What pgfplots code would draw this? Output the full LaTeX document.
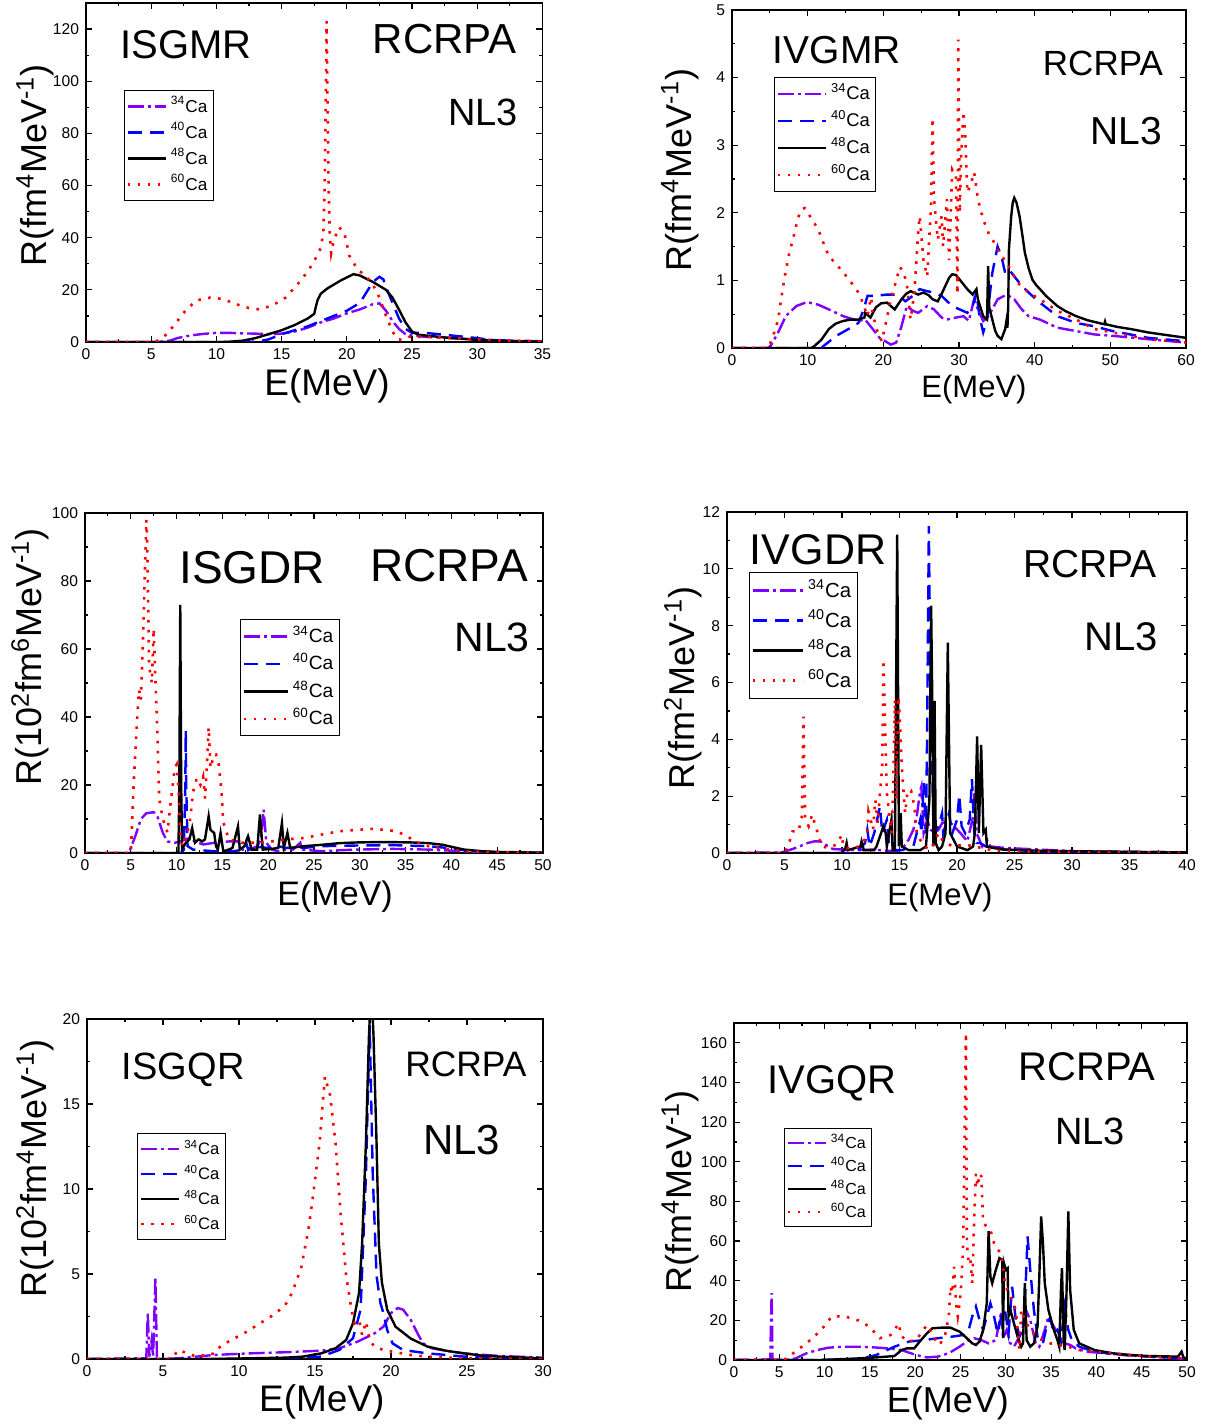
\documentclass[border=0pt]{standalone}
\usepackage{fontspec}
\setmainfont{Liberation Sans}
\usepackage{pgfplots}
\pgfplotsset{compat=1.18}

\definecolor{cviolet}{RGB}{128,0,255}
\definecolor{cblue}{RGB}{0,0,255}
\definecolor{cred}{RGB}{255,0,0}

\tikzset{
 s34/.style={cviolet, line width=1.2pt, dash pattern=on 8pt off 2pt on 1.5pt off 2pt},
 s40/.style={cblue, line width=1.2pt, dash pattern=on 7pt off 4pt},
 s48/.style={black, line width=1.2pt},
 s60/.style={cred, line width=1.3pt, dash pattern=on 1.3pt off 3.7pt},
}
\newcommand{\yl}[1]{R(#1MeV\textsuperscript{-1})}
\pgfplotsset{
 panel/.style={
   scale only axis, anchor=south west,
   axis line style={line width=0.7pt},
   every tick/.style={black, line width=0.6pt},
   major tick length=3pt, minor tick length=1.6pt,
   tick align=inside,
   minor tick num=1,
   tick label style={font=\fontsize{7.8}{8}\selectfont},
   /pgf/number format/assume math mode=true,
   ylabel style={font=\fontsize{18}{20}\selectfont, anchor=center},
   xlabel style={anchor=center},
   xlabel={E(MeV)},
   every axis plot/.append style={no marks},
   legend cell align=left,
   legend style={draw=black, line width=0.5pt, fill=white, anchor=north west,
     inner xsep=1pt, inner ysep=1.5pt, row sep=0pt},
   clip=true,
 },
 leg/.style n args={4}{%
   legend style={at={(rel axis cs:#1,#2)}, font=\fontsize{#3}{#3}\selectfont,
     nodes={inner ysep=0pt, inner xsep=2pt, text height=0.72*#4, text depth=0.28*#4}},
 },
}

\begin{document}
\begin{tikzpicture}
\useasboundingbox (0,0) rectangle (605.5pt,714pt);

% ---------------- ISGMR ----------------
\begin{axis}[panel, at={(43pt,543pt)}, width=228.25pt, height=169.5pt,
  xmin=0, xmax=35, ymin=0, ymax=130,
  xtick={0,5,...,35}, ytick={0,20,...,120},
  ylabel={\yl{fm\textsuperscript{4}}},
  xlabel style={font=\fontsize{18.5}{20}\selectfont, at={(axis description cs:0.528,-0.13)}},
  ylabel style={at={(axis description cs:-0.112,0.52)}},
  leg={0.083}{0.743}{8.6}{13pt},
  legend image code/.code={\draw[#1] (0pt,0pt) -- (19pt,0pt);},
]
\addplot[s34] coordinates {(0,0) (5.5,0) (6,0.2) (6.5,0.6) (7,1.5) (8,2.5) (9,3.1) (10,3.5) (11,3.5) (12,3.3) (13,3.2) (14,3.0) (15,3.2) (16,4.0) (17,5.5) (18,7.5) (19,9) (20,11) (21,12.5) (22,14.5) (22.5,14.8) (23,12) (23.5,8) (24,5) (24.5,3) (25,2.5) (26,2) (28,1.5) (30,1) (32,0.6) (35,0.3)};
\addlegendentry{\textsuperscript{34}Ca}
\addplot[s40] coordinates {(0,0) (12.5,0) (13,0.2) (13.5,0.5) (14,1) (15,3) (16,4.5) (17,6) (18,8) (19,10) (20,12) (21,15) (21.5,19) (22,23) (22.5,25) (22.8,24) (23,21) (23.5,15) (24,9) (24.5,5) (25,3.5) (26,3.5) (27,3) (28,2.5) (29,2) (30,1.5) (31,0.8) (33,0.3) (35,0.1)};
\addlegendentry{\textsuperscript{40}Ca}
\addplot[s48] coordinates {(0,0) (10.5,0) (11,0.1) (12,0.5) (13,1.5) (14,3) (15,4.5) (16,6.5) (17,9) (17.5,10.8) (17.6,13) (17.75,16) (18,18.5) (18.5,20.5) (19.5,23.5) (20.5,26) (21,25.5) (22,23) (23,20) (23.5,17) (24,12.4) (24.5,7.5) (25,4) (25.5,2.8) (26,2.5) (27,2) (28,1.5) (30,0.8) (32,0.4) (35,0.1)};
\addlegendentry{\textsuperscript{48}Ca}
\addplot[s60] coordinates {(0,0) (5,0) (5.5,0.5) (6.2,3) (7,8) (7.7,12.5) (8.5,16) (9.5,17) (10.5,16.5) (11.5,14.5) (12.5,13) (13.3,12.5) (14.3,14) (15.3,17) (16.2,22) (17,27) (17.6,32) (18.0,36) (18.2,42) (18.3,60) (18.4,100) (18.45,123) (18.5,100) (18.6,60) (18.7,40) (18.8,34) (19,39) (19.4,44) (19.8,42) (20.2,33) (20.8,28) (21.5,25) (22,22) (22.5,17) (23,10) (23.5,4) (23.9,1) (24.3,0.8) (24.8,2) (26,2) (28,1.5) (30,1) (32,0.5) (35,0.2)};
\addlegendentry{\textsuperscript{60}Ca}
\node[font=\fontsize{20}{22}\selectfont] at (rel axis cs:0.219,0.876) {ISGMR};
\node[font=\fontsize{21}{22}\selectfont] at (rel axis cs:0.786,0.894) {RCRPA};
\node[font=\fontsize{19}{22}\selectfont] at (rel axis cs:0.870,0.678) {NL3};
\end{axis}

% ---------------- IVGMR ----------------
\begin{axis}[panel, at={(366pt,540pt)}, width=227pt, height=169pt,
  xmin=0, xmax=60, ymin=0, ymax=5,
  xtick={0,10,...,60}, ytick={0,1,...,5},
  ylabel={\yl{fm\textsuperscript{4}}},
  xlabel style={font=\fontsize{15.5}{17}\selectfont, at={(axis description cs:0.533,-0.124)}},
  ylabel style={at={(axis description cs:-0.115,0.527)}},
  leg={0.0925}{0.802}{9.2}{13.5pt},
  legend image code/.code={\draw[#1] (0pt,0pt) -- (24pt,0pt);},
]
\addplot[s34] coordinates {(0,0) (4.8,0) (5.1,0.03) (6.1,0.23) (7.1,0.47) (8.5,0.62) (9.9,0.68) (11.4,0.64) (12.8,0.57) (14.7,0.47) (16.7,0.4) (17.6,0.42) (18.6,0.28) (19.5,0.15) (21,0.05) (21.7,0.08) (22.4,0.32) (23.1,0.62) (23.9,0.55) (24.6,0.52) (25.8,0.62) (26.7,0.57) (27.7,0.45) (28.4,0.42) (29.6,0.45) (30.6,0.47) (31.3,0.4) (32,0.72) (32.5,0.57) (33.2,0.4) (33.9,0.47) (35.1,0.72) (36.3,0.79) (37.3,0.72) (38.3,0.57) (39.2,0.47) (40.7,0.42) (43,0.3) (45.5,0.25) (47.9,0.2) (50.3,0.18) (55,0.13) (60,0.08)};
\addlegendentry{\textsuperscript{34}Ca}
\addplot[s40] coordinates {(0,0) (11.8,0) (12.1,0.03) (13.8,0.18) (15.7,0.3) (16.7,0.37) (17.4,0.57) (17.9,0.77) (18.8,0.77) (20.5,0.79) (21.9,0.79) (22.9,0.69) (23.9,0.77) (24.8,0.87) (25.8,0.84) (26.7,0.82) (27.7,0.77) (29.1,0.62) (30.1,0.57) (31.1,0.52) (31.8,0.62) (32.3,0.82) (32.7,0.47) (33.2,0.23) (33.7,0.42) (34.4,1.11) (35.1,1.5) (35.6,1.36) (36.1,1.11) (36.6,1.16) (37.3,1.06) (38.3,0.92) (39.2,0.82) (40.7,0.67) (43,0.47) (45.5,0.37) (47.9,0.32) (50.3,0.25) (55,0.15) (60,0.1)};
\addlegendentry{\textsuperscript{40}Ca}
\addplot[s48] coordinates {(0,0) (10.5,0) (10.9,0.03) (11.8,0.12) (12.8,0.28) (13.7,0.36) (14.7,0.4) (15.7,0.42) (16.7,0.42) (17.5,0.45) (17.6,0.52) (18.3,0.45) (19,0.6) (19.7,0.66) (20.5,0.67) (21.5,0.57) (22.4,0.72) (23.0,0.8) (23.6,0.84) (24.6,0.79) (25.3,0.82) (26.0,0.78) (26.5,0.72) (27.2,0.69) (27.7,0.8) (28.2,0.92) (28.7,1.04) (29.1,1.09) (29.6,1.08) (30.1,1.01) (30.6,0.94) (31.1,0.87) (31.8,0.79) (32.3,0.87) (32.5,0.72) (33.2,0.47) (33.7,0.42) (33.85,1.21) (34.0,0.6) (34.4,0.42) (34.8,0.25) (35.1,0.18) (35.6,0.13) (36.1,0.28) (36.3,0.42) (36.4,0.3) (36.5,0.6) (36.6,1.46) (36.9,1.95) (37.1,2.15) (37.3,2.22) (37.6,2.15) (38.0,1.95) (38.4,1.65) (38.7,1.41) (39.2,1.18) (39.7,1.01) (40.2,0.93) (40.7,0.87) (41.5,0.77) (43,0.62) (44,0.55) (45.5,0.47) (47,0.41) (49.2,0.35) (49.3,0.39) (49.4,0.35) (51,0.31) (52.7,0.28) (55,0.23) (57.5,0.19) (60,0.15)};
\addlegendentry{\textsuperscript{48}Ca}
\addplot[s60] coordinates {(0,0) (4.5,0) (5.0,0.05) (5.5,0.2) (6.1,0.42) (6.6,0.8) (7.05,1.11) (7.6,1.42) (8.26,1.7) (8.7,1.92) (9.2,2.05) (9.6,2.07) (10,2.0) (10.6,1.9) (11.4,1.75) (12.1,1.55) (12.8,1.36) (14,1.21) (15.5,1.01) (16.7,0.82) (17.1,0.72) (17.9,0.47) (18.2,0.65) (18.4,0.75) (18.6,0.5) (19.2,0.25) (19.8,0.1) (21,0.72) (22.2,1.2) (22.7,1.1) (23.1,0.96) (23.6,0.42) (24.1,0.82) (24.6,1.7) (24.8,1.95) (25.3,1.3) (25.8,1.06) (26.3,2.1) (26.5,3.4) (26.7,2.2) (27.2,1.6) (27.7,1.95) (27.9,1.5) (28.4,2.2) (28.7,1.3) (29.1,2.64) (29.6,2.54) (29.8,0.8) (29.9,4.56) (30.1,2.0) (30.3,2.9) (30.6,3.5) (30.8,3.2) (31.1,2.3) (31.5,2.4) (32,2.6) (32.5,2.2) (33.2,1.9) (33.9,1.7) (34.7,1.55) (35.4,1.4) (36.3,1.26) (37.8,0.96) (39.2,0.82) (40.7,0.72) (43,0.55) (45.5,0.42) (47.9,0.28) (50.3,0.23) (55,0.13) (60,0.08)};
\addlegendentry{\textsuperscript{60}Ca}
\node[font=\fontsize{19.5}{22}\selectfont] at (rel axis cs:0.231,0.882) {IVGMR};
\node[font=\fontsize{17.5}{20}\selectfont] at (rel axis cs:0.817,0.843) {RCRPA};
\node[font=\fontsize{19.5}{22}\selectfont] at (rel axis cs:0.868,0.642) {NL3};
\end{axis}

% ---------------- ISGDR ----------------
\begin{axis}[panel, at={(42.5pt,287.5pt)}, width=229pt, height=170pt,
  xmin=0, xmax=50, ymin=0, ymax=100,
  xtick={0,5,...,50}, ytick={0,20,...,100},
  ylabel={\yl{10\textsuperscript{2}fm\textsuperscript{6}}},
  xlabel style={font=\fontsize{17}{19}\selectfont, at={(axis description cs:0.546,-0.13)}},
  ylabel style={at={(axis description cs:-0.12,0.576)}},
  leg={0.338}{0.688}{9.6}{13.75pt},
  legend image code/.code={\draw[#1] (0pt,0pt) -- (22pt,0pt);},
]
\addplot[s34] coordinates {(0,0) (4.8,0) (5,1.5) (5.5,5) (6.1,10) (6.7,11.7) (7.5,12) (7.9,10.8) (8.5,5.9) (9,3.4) (9.8,3) (10.4,3.4) (11,4) (11.4,4.4) (12,3.4) (12.9,2.5) (14.1,3) (15.7,3.4) (16.7,3.4) (17.2,1) (18,1) (18.8,2) (19.2,4) (19.5,12.7) (19.8,3) (20.4,1) (21.1,0.5) (21.9,1) (22.7,1) (23.5,3) (23.7,1) (25.8,0.5) (27.8,0.8) (29.7,1) (33.6,1.2) (37.5,1) (41.4,0.5) (45.3,0.2) (50,0.1)};
\addlegendentry{\textsuperscript{34}Ca}
\addplot[s40] coordinates {(0,0) (10.5,0) (10.8,1) (10.95,20) (11.0,36) (11.05,20) (11.2,2) (11.8,1) (14.1,0.5) (16.1,0.5) (17.4,1) (17.6,3) (17.8,1) (18,2) (20,1.5) (21.1,2) (21.9,1.5) (23.9,1.5) (25.8,2) (29.7,2.2) (33.6,2.3) (37.5,2) (39.5,1.5) (41.4,0.8) (45.3,0.2) (50,0)};
\addlegendentry{\textsuperscript{40}Ca}
\addplot[s48] coordinates {(0,0) (10,0) (10.2,0.2) (10.3,20) (10.4,73) (10.5,20) (10.6,1) (11,3) (11.4,4) (11.7,7.3) (12,3) (12.4,4) (12.8,3.4) (13.1,4) (13.5,10.8) (13.7,6.8) (14.1,5.9) (14.3,2) (14.5,1) (14.8,5.9) (15.1,0.5) (15.7,1) (16.1,1.5) (16.7,7.8) (16.9,1) (17.4,2) (17.8,4.9) (18.2,1) (18.8,1) (19.1,11.3) (19.4,1) (20.4,1.2) (21.1,1.5) (21.5,8.8) (21.7,1.5) (22.1,5.9) (22.4,1.5) (23.9,2) (25.8,2.4) (27.8,2.9) (29.7,3.1) (31.7,3.2) (33.6,3.2) (35.6,3.1) (37.5,2.9) (39.1,2.4) (40.2,1.7) (41.4,1) (43.4,0.5) (45.3,0.3) (50,0.1)};
\addlegendentry{\textsuperscript{48}Ca}
\addplot[s60] coordinates {(0,0) (5,0) (5.15,8.8) (5.3,19.6) (5.7,40) (5.9,48) (6.1,45) (6.3,60) (6.5,79) (6.7,98) (6.8,91) (7.0,55) (7.3,50) (7.5,66) (7.7,50) (7.9,35) (8.1,16) (8.5,10) (9.0,6) (9.4,16) (9.8,25) (10.0,26) (10.2,19) (10.4,6) (10.6,2) (11.4,8) (11.8,18) (12.2,22) (12.6,20) (12.9,22.5) (13.1,16) (13.3,25) (13.5,37) (13.7,25) (13.9,27) (14.1,29) (14.3,29) (14.6,26) (14.9,18) (15.1,9) (15.7,4) (17.2,3) (18.8,3) (20.4,3.4) (21.9,4) (23.9,4.4) (25.8,5.4) (27.8,6.4) (29.7,6.8) (31.3,7.1) (32.8,6.8) (34,6.4) (35.2,4.9) (36,3.4) (37.5,2) (39.5,1.2) (41.4,0.5) (45.3,0.2) (50,0)};
\addlegendentry{\textsuperscript{60}Ca}
\node[font=\fontsize{23}{25}\selectfont] at (rel axis cs:0.365,0.838) {ISGDR};
\node[font=\fontsize{23}{25}\selectfont] at (rel axis cs:0.795,0.844) {RCRPA};
\node[font=\fontsize{20.5}{22}\selectfont] at (rel axis cs:0.889,0.635) {NL3};
\end{axis}

% ---------------- IVGDR ----------------
\begin{axis}[panel, at={(363.5pt,287.5pt)}, width=230pt, height=170.5pt,
  xmin=0, xmax=40, ymin=0, ymax=12,
  xtick={0,5,...,40}, ytick={0,2,...,12},
  ylabel={\yl{fm\textsuperscript{2}}},
  xlabel style={font=\fontsize{15.5}{17}\selectfont, at={(axis description cs:0.463,-0.13)}},
  ylabel style={at={(axis description cs:-0.096,0.484)}},
  leg={0.048}{0.824}{10.2}{15pt},
  legend image code/.code={\draw[#1] (0pt,0pt) -- (25pt,0pt);},
]
\addplot[s34] coordinates {(0,0) (4.75,0.02) (5.7,0.14) (6.3,0.23) (7,0.35) (7.6,0.41) (8.1,0.41) (8.55,0.3) (9.2,0.14) (10.1,0.12) (11.4,0.1) (12.7,0.12) (14.6,0.06) (15.2,0.12) (15.8,0.47) (16.2,0.82) (16.5,1.29) (16.8,2.2) (16.9,2.34) (17.1,0.7) (17.4,1.17) (17.7,0.82) (18.05,0.7) (18.4,0.82) (18.7,1.05) (19.2,1.11) (19.6,1.0) (20.3,0.7) (20.9,0.41) (21.4,1.29) (21.5,2.1) (21.7,0.7) (22.2,0.23) (22.6,0.47) (22.9,0.23) (24.1,0.18) (27.2,0.12) (30.4,0.06) (40,0.02)};
\addlegendentry{\textsuperscript{34}Ca}
\addplot[s40] coordinates {(0,0) (11,0) (11.4,0.1) (12,0.35) (12.2,0.82) (12.4,0.23) (12.8,0.7) (13.3,1.64) (13.5,0.7) (13.9,1.17) (14.1,0.23) (14.6,0.1) (15.2,0.1) (16.2,0.23) (16.5,0.7) (16.8,1.17) (16.9,0.7) (17.1,2.46) (17.3,0.7) (17.4,4.2) (17.55,11.5) (17.7,5.4) (17.9,1.87) (18.05,0.7) (18.4,0.94) (18.7,1.4) (18.8,0.7) (19.3,1.4) (19.6,0.7) (20,1.17) (20.2,2.05) (20.4,0.94) (20.7,0.7) (21.1,1.17) (21.3,2.6) (21.5,0.7) (21.7,0.35) (22,0.35) (22.5,0.23) (23.1,0.18) (24.1,0.12) (27.2,0.06) (40,0.02)};
\addlegendentry{\textsuperscript{40}Ca}
\addplot[s48] coordinates {(0,0) (10,0) (10.3,0.18) (10.4,0.35) (10.5,0.1) (11.6,0.23) (11.7,0.41) (11.9,0.1) (12.8,0.1) (13,0.23) (13.6,0.94) (13.8,0.7) (13.9,0.23) (14.3,1.17) (14.4,0.1) (14.6,0.1) (14.8,11.2) (14.95,0.23) (15.1,1.4) (15.2,0.23) (15.8,0.1) (16.8,0.1) (17.3,0.23) (17.6,1.87) (17.75,8.7) (17.85,5.4) (17.95,0.23) (18.05,5.35) (18.15,0.35) (18.4,0.1) (18.7,0.23) (19.0,0.7) (19.2,7.4) (19.4,0.7) (20,0.23) (20.9,0.1) (21.4,0.23) (21.55,0.7) (21.75,4.1) (21.9,0.7) (22.1,3.8) (22.3,0.7) (22.5,0.82) (22.6,0.23) (23.1,0.18) (24.1,0.12) (27.2,0.08) (30.4,0.06) (40,0.02)};
\addlegendentry{\textsuperscript{48}Ca}
\addplot[s60] coordinates {(0,0) (5,0) (5.1,0.06) (5.4,0.35) (5.7,0.76) (6.2,0.76) (6.5,1.2) (6.65,4.8) (6.8,1.2) (7.1,0.94) (7.4,1.35) (7.8,0.82) (8.2,0.23) (8.9,0.18) (9.5,0.3) (10,0.64) (10.1,0.23) (10.8,0.12) (11.4,0.23) (11.9,0.41) (12.2,0.7) (12.3,1.46) (12.7,0.82) (12.9,1.87) (13.1,1.05) (13.3,2.1) (13.5,3.05) (13.6,6.8) (13.8,3.6) (13.9,2.1) (14.3,0.7) (14.4,1.64) (14.6,5.4) (14.7,1.87) (14.9,5.5) (15,4.9) (15.2,3.05) (15.4,1.87) (15.5,1.4) (15.7,2.2) (16,2.2) (16.3,1.64) (16.5,0.7) (17.1,0.23) (17.7,0.12) (18.4,0.7) (18.7,0.47) (19.6,0.23) (20.6,0.3) (21.5,0.23) (22.8,0.12) (24.1,0.06) (40,0)};
\addlegendentry{\textsuperscript{60}Ca}
\node[font=\fontsize{21.5}{24}\selectfont] at (rel axis cs:0.198,0.889) {IVGDR};
\node[font=\fontsize{19.5}{22}\selectfont] at (rel axis cs:0.789,0.848) {RCRPA};
\node[font=\fontsize{20}{22}\selectfont] at (rel axis cs:0.857,0.633) {NL3};
\end{axis}

% ---------------- ISGQR ----------------
\begin{axis}[panel, at={(43.5pt,34.5pt)}, width=228pt, height=170pt,
  xmin=0, xmax=30, ymin=0, ymax=20,
  xtick={0,5,...,30}, ytick={0,5,...,20},
  ylabel={\yl{10\textsuperscript{2}fm\textsuperscript{4}}},
  xlabel style={font=\fontsize{18.5}{20}\selectfont, at={(axis description cs:0.515,-0.126)}},
  ylabel style={at={(axis description cs:-0.114,0.56)}},
  leg={0.110}{0.665}{8.3}{12.5pt},
  legend image code/.code={\draw[#1] (0pt,0pt) -- (19pt,0pt);},
]
\addplot[s34] coordinates {(0,0) (3.9,0.04) (4.0,2.7) (4.1,0.14) (4.25,1.1) (4.35,0.14) (4.5,4.8) (4.6,0.14) (4.85,0) (6,0.04) (7.2,0.14) (8.4,0.24) (10.7,0.33) (13.1,0.4) (15.4,0.49) (16.6,0.63) (17.8,1.02) (18.9,1.5) (19.5,1.9) (20,2.7) (20.45,3.0) (20.8,2.9) (21.3,2.3) (21.75,1.5) (22.1,0.92) (22.7,0.63) (23.6,0.49) (24.8,0.33) (27.1,0.18) (30,0.08)};
\addlegendentry{\textsuperscript{34}Ca}
\addplot[s40] coordinates {(0,0) (12,0) (15.4,0.14) (16.6,0.53) (17.5,1.22) (18,2.9) (18.35,10.8) (18.6,19.6) (18.8,10.8) (19.05,4.9) (19.3,3.3) (19.5,2.7) (19.75,1.7) (20.1,0.92) (20.8,0.53) (22.4,0.33) (23.6,0.24) (24.8,0.14) (27.1,0.08) (30,0.04)};
\addlegendentry{\textsuperscript{40}Ca}
\addplot[s48] coordinates {(0,0) (8,0) (10.7,0.04) (13.1,0.08) (14.2,0.14) (15.4,0.33) (16.35,0.63) (17.05,1.12) (17.5,2.1) (17.9,3.9) (18.1,6.8) (18.35,12.7) (18.55,19) (18.7,22) (18.85,19) (19.05,12.7) (19.2,6.8) (19.4,4.5) (19.75,2.9) (20.3,1.9) (21.3,1.2) (22.4,0.73) (23.6,0.49) (24.8,0.33) (26,0.2) (27.1,0.14) (30,0.04)};
\addlegendentry{\textsuperscript{48}Ca}
\addplot[s60] coordinates {(0,0) (5.3,0) (5.6,0.04) (6,0.53) (7.2,0.14) (8.4,0.33) (8.8,0.77) (9.5,1.12) (10.5,1.6) (11.2,2.0) (12.1,2.5) (13,3.1) (13.5,3.9) (14.1,5.4) (14.6,7.8) (14.9,9.8) (15.3,12.7) (15.65,16.6) (16,15.5) (16.35,12.7) (16.7,8.4) (17.05,4.9) (17.4,2.9) (17.6,2.1) (17.9,2.3) (18.1,1.4) (18.35,2.2) (18.6,1.12) (18.9,0.73) (19.5,0.53) (20.1,0.43) (21.3,0.24) (22.4,0.14) (24.8,0.04) (30,0)};
\addlegendentry{\textsuperscript{60}Ca}
\node[font=\fontsize{19}{22}\selectfont] at (rel axis cs:0.211,0.85) {ISGQR};
\node[font=\fontsize{17.7}{20}\selectfont] at (rel axis cs:0.831,0.868) {RCRPA};
\node[font=\fontsize{21}{23}\selectfont] at (rel axis cs:0.822,0.644) {NL3};
\end{axis}

% ---------------- IVGQR ----------------
\begin{axis}[panel, at={(367pt,34pt)}, width=226.5pt, height=168.5pt,
  xmin=0, xmax=50, ymin=0, ymax=170,
  xtick={0,5,...,50}, ytick={0,20,...,160},
  ylabel={\yl{fm\textsuperscript{4}}},
  xlabel style={font=\fontsize{18}{20}\selectfont, at={(axis description cs:0.472,-0.128)}},
  ylabel style={at={(axis description cs:-0.119,0.5)}},
  leg={0.110}{0.688}{8}{11.5pt},
  legend image code/.code={\draw[#1] (0pt,0pt) -- (19pt,0pt);},
]
\addplot[s34] coordinates {(0,0) (4.0,0.3) (4.15,33.7) (4.25,0.3) (5.6,0) (6.8,0.8) (8,3.4) (9.2,5) (10.4,6.2) (12,6.7) (13.7,6.7) (15.3,6.4) (16.9,5.9) (18.5,5) (20.1,2.5) (21.3,1.3) (22.5,1.7) (23.7,3.4) (24.9,6.7) (25.9,10) (26.5,11) (27.3,10) (28.1,8.4) (28.9,10) (29.5,24.4) (29.7,11) (30.1,15.2) (30.5,8.4) (30.9,6.7) (31.3,10) (31.9,16.8) (32.3,24.4) (32.7,20.2) (33.3,8.4) (33.7,6.7) (34.3,15.2) (34.7,22) (35.1,18.5) (35.5,15.2) (36.1,10) (36.5,8.4) (37.1,7.6) (37.7,5.9) (38.9,4.2) (41,3.4) (43.8,2.2) (45.8,1.7) (50,0.5)};
\addlegendentry{\textsuperscript{34}Ca}
\addplot[s40] coordinates {(0,0) (9,0) (13.7,0.3) (15.7,2.5) (17.7,6.7) (19.3,9.3) (20.9,10) (22.5,11) (24.1,11.8) (25.3,12.6) (25.9,15.2) (26.3,22) (26.7,27) (27.1,20.2) (27.5,15.2) (27.9,22) (28.3,28.6) (28.7,22) (29.1,13.5) (29.5,22) (29.9,25.3) (30.3,13.5) (30.7,37) (31.1,20.2) (31.5,11.8) (31.9,15.2) (32.2,38.7) (32.4,62.3) (32.7,45.5) (33.1,25.3) (33.5,11.8) (34.1,8.4) (34.5,16.8) (34.9,21) (35.3,13.5) (35.7,15.2) (36.1,10) (36.5,27) (36.9,15.2) (37.3,10) (38.1,6.7) (39.8,4.2) (41.8,3) (45.8,1.7) (50,0.8)};
\addlegendentry{\textsuperscript{40}Ca}
\addplot[s48] coordinates {(0,0) (9.6,0) (13.7,0.8) (15.7,1.3) (17.7,2) (18.5,5) (19.1,5.9) (19.9,5.9) (20.5,9.3) (21.3,13.5) (21.9,16) (22.9,16.3) (23.9,16.3) (24.9,14.3) (25.7,11) (26.3,8.4) (26.7,7.6) (27.1,9.3) (27.5,15.2) (27.9,28.6) (28.1,65) (28.3,42) (28.5,38.7) (28.9,45.5) (29.3,51.4) (29.6,50.5) (29.7,11) (29.8,48.8) (30,45.5) (30.2,46.3) (30.3,22) (30.5,25.3) (30.9,18.5) (31.3,11.8) (31.7,6.7) (31.9,8.4) (32.1,38.7) (32.3,10) (32.7,6.7) (33.1,8.4) (33.5,16.8) (33.7,42) (33.9,72.4) (34.1,59) (34.3,38.7) (34.7,25.3) (35.3,15.2) (35.7,10) (35.9,6.7) (36.1,37) (36.2,46.3) (36.4,8.4) (36.5,5) (36.7,33.7) (36.9,75) (37.1,35.4) (37.3,25.3) (37.5,15.2) (38.1,8.4) (39.8,5) (41.8,3.4) (43.8,2.5) (45.8,2) (49,1.7) (49.4,4.2) (49.6,1.3) (50,0.8)};
\addlegendentry{\textsuperscript{48}Ca}
\addplot[s60] coordinates {(0,0) (5,0) (5.6,0.3) (7,5) (8.4,10) (9.6,15) (10.8,22) (12.2,22) (13.7,20) (14.9,17) (16.1,11) (17.3,12.6) (18.2,18.5) (18.4,12.6) (19.1,9.3) (20.1,10) (21.3,17.7) (22.1,11) (22.7,7.6) (23.3,12.6) (23.7,22) (23.9,37) (24.1,33.7) (24.3,47) (24.5,28.6) (24.7,22) (24.9,28.6) (25.1,38.7) (25.3,59) (25.6,165) (25.7,59) (25.9,48.8) (26.1,50.5) (26.3,38.7) (26.5,69) (26.7,94) (26.9,87.6) (27.1,94) (27.3,92.6) (27.5,69) (27.9,67.4) (28.3,65.7) (28.7,59) (29.1,55.6) (29.5,54) (29.9,38.7) (30.3,33.7) (30.7,30.3) (31.1,25.3) (31.3,15.2) (31.5,5) (31.7,25.3) (32.1,20.2) (32.7,15.2) (33.3,12.6) (34.1,10) (34.9,8.4) (35.7,7.6) (36.9,6.7) (38.1,5) (39.8,4.2) (41.8,3.4) (43.8,2.5) (45.8,1.7) (50,0.8)};
\addlegendentry{\textsuperscript{60}Ca}
\node[font=\fontsize{20}{22}\selectfont] at (rel axis cs:0.216,0.822) {IVGQR};
\node[font=\fontsize{20}{22}\selectfont] at (rel axis cs:0.779,0.869) {RCRPA};
\node[font=\fontsize{19}{22}\selectfont] at (rel axis cs:0.786,0.677) {NL3};
\end{axis}
\end{tikzpicture}
\end{document}
